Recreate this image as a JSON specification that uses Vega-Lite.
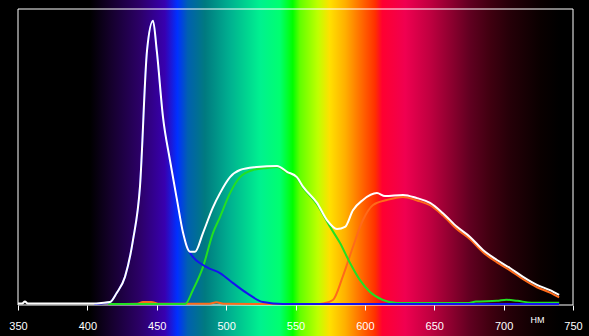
{
  "$schema": "https://vega.github.io/schema/vega-lite/v6.json",
  "width": 555,
  "height": 296,
  "autosize": {"type": "none"},
  "padding": {"left": 18, "top": 9, "right": 16, "bottom": 31},
  "background": "#000000",
  "config": {"view": {"stroke": null}},
  "datasets": {
    "spectrum": [
      {"s": "orange", "nm": 415, "v": 0.3}, {"s": "orange", "nm": 436, "v": 0.4}, {"s": "orange", "nm": 440, "v": 1.0}, {"s": "orange", "nm": 446, "v": 1.0}, {"s": "orange", "nm": 452, "v": 0.4}, {"s": "orange", "nm": 488, "v": 0.4}, {"s": "orange", "nm": 493, "v": 0.9}, {"s": "orange", "nm": 498, "v": 0.4}, {"s": "orange", "nm": 565, "v": 0.3}, {"s": "orange", "nm": 570, "v": 0.5}, {"s": "orange", "nm": 577, "v": 1.7}, {"s": "orange", "nm": 584, "v": 9.5}, {"s": "orange", "nm": 591.4, "v": 19.6}, {"s": "orange", "nm": 598.6, "v": 28.7}, {"s": "orange", "nm": 605.9, "v": 33.8}, {"s": "orange", "nm": 616, "v": 35.5}, {"s": "orange", "nm": 627.5, "v": 36.5}, {"s": "orange", "nm": 637.6, "v": 35.3}, {"s": "orange", "nm": 647, "v": 33.7}, {"s": "orange", "nm": 656.3, "v": 30.2}, {"s": "orange", "nm": 666.4, "v": 25.6}, {"s": "orange", "nm": 675.8, "v": 22.2}, {"s": "orange", "nm": 685.1, "v": 17.8}, {"s": "orange", "nm": 695.2, "v": 14.4}, {"s": "orange", "nm": 704.6, "v": 11.7}, {"s": "orange", "nm": 714, "v": 8.7}, {"s": "orange", "nm": 724, "v": 6.0}, {"s": "orange", "nm": 733.4, "v": 4.2}, {"s": "orange", "nm": 740, "v": 2.6},
      {"s": "green", "nm": 415, "v": 0.3}, {"s": "green", "nm": 470.4, "v": 0.3}, {"s": "green", "nm": 476, "v": 5}, {"s": "green", "nm": 483.3, "v": 12.8}, {"s": "green", "nm": 490.5, "v": 24.3}, {"s": "green", "nm": 495.6, "v": 29.7}, {"s": "green", "nm": 502.8, "v": 37.8}, {"s": "green", "nm": 510, "v": 43.2}, {"s": "green", "nm": 519.4, "v": 45.6}, {"s": "green", "nm": 529.5, "v": 46.3}, {"s": "green", "nm": 536.7, "v": 46.6}, {"s": "green", "nm": 543.9, "v": 44.6}, {"s": "green", "nm": 551, "v": 42.8}, {"s": "green", "nm": 555.4, "v": 39.6}, {"s": "green", "nm": 565.5, "v": 34.0}, {"s": "green", "nm": 574.9, "v": 26.4}, {"s": "green", "nm": 582, "v": 21}, {"s": "green", "nm": 589.3, "v": 14.2}, {"s": "green", "nm": 596.5, "v": 8.4}, {"s": "green", "nm": 603.7, "v": 4.4}, {"s": "green", "nm": 613, "v": 1.7}, {"s": "green", "nm": 623, "v": 0.7}, {"s": "green", "nm": 675, "v": 0.7}, {"s": "green", "nm": 680, "v": 1.2}, {"s": "green", "nm": 695, "v": 1.4}, {"s": "green", "nm": 702, "v": 1.8}, {"s": "green", "nm": 710, "v": 1.4}, {"s": "green", "nm": 720, "v": 0.8}, {"s": "green", "nm": 740, "v": 0.8},
      {"s": "blue", "nm": 405, "v": 0.3}, {"s": "blue", "nm": 410, "v": 0.5}, {"s": "blue", "nm": 416.3, "v": 1}, {"s": "blue", "nm": 421, "v": 4}, {"s": "blue", "nm": 427.1, "v": 9.5}, {"s": "blue", "nm": 432.9, "v": 22}, {"s": "blue", "nm": 437.9, "v": 39.9}, {"s": "blue", "nm": 443, "v": 86}, {"s": "blue", "nm": 447.3, "v": 96}, {"s": "blue", "nm": 450, "v": 86}, {"s": "blue", "nm": 454.5, "v": 63.5}, {"s": "blue", "nm": 459.5, "v": 49}, {"s": "blue", "nm": 464.6, "v": 35.5}, {"s": "blue", "nm": 469, "v": 24.3}, {"s": "blue", "nm": 474, "v": 17.6}, {"s": "blue", "nm": 486, "v": 12.8}, {"s": "blue", "nm": 495.6, "v": 10.8}, {"s": "blue", "nm": 505, "v": 7.4}, {"s": "blue", "nm": 515, "v": 4}, {"s": "blue", "nm": 526.6, "v": 1}, {"s": "blue", "nm": 541, "v": 0.3}, {"s": "blue", "nm": 740, "v": 0.3},
      {"s": "white", "nm": 350, "v": 0.5}, {"s": "white", "nm": 353, "v": 0.5}, {"s": "white", "nm": 355, "v": 1.2}, {"s": "white", "nm": 357, "v": 0.5}, {"s": "white", "nm": 405, "v": 0.5}, {"s": "white", "nm": 410, "v": 0.7}, {"s": "white", "nm": 416.3, "v": 1}, {"s": "white", "nm": 421, "v": 4}, {"s": "white", "nm": 427.1, "v": 9.5}, {"s": "white", "nm": 432.9, "v": 22}, {"s": "white", "nm": 437.9, "v": 39.9}, {"s": "white", "nm": 443, "v": 86}, {"s": "white", "nm": 447.3, "v": 96}, {"s": "white", "nm": 450, "v": 86}, {"s": "white", "nm": 454.5, "v": 63.5}, {"s": "white", "nm": 459.5, "v": 49}, {"s": "white", "nm": 464.6, "v": 35.5}, {"s": "white", "nm": 469, "v": 24.3}, {"s": "white", "nm": 474, "v": 18}, {"s": "white", "nm": 477.6, "v": 18}, {"s": "white", "nm": 483.3, "v": 24.3}, {"s": "white", "nm": 490.5, "v": 33}, {"s": "white", "nm": 495.6, "v": 37.8}, {"s": "white", "nm": 502.8, "v": 43.2}, {"s": "white", "nm": 510, "v": 45.6}, {"s": "white", "nm": 522, "v": 46.6}, {"s": "white", "nm": 536.7, "v": 47}, {"s": "white", "nm": 543.9, "v": 45}, {"s": "white", "nm": 551, "v": 43.2}, {"s": "white", "nm": 555.4, "v": 40}, {"s": "white", "nm": 565.5, "v": 34.5}, {"s": "white", "nm": 572.7, "v": 28.7}, {"s": "white", "nm": 579.9, "v": 25.7}, {"s": "white", "nm": 585.7, "v": 26.4}, {"s": "white", "nm": 591.4, "v": 32}, {"s": "white", "nm": 598.6, "v": 35.5}, {"s": "white", "nm": 608.7, "v": 37.8}, {"s": "white", "nm": 614.5, "v": 36.8}, {"s": "white", "nm": 627.5, "v": 37.2}, {"s": "white", "nm": 637.6, "v": 36.1}, {"s": "white", "nm": 647, "v": 34.5}, {"s": "white", "nm": 656.3, "v": 31}, {"s": "white", "nm": 666.4, "v": 26.4}, {"s": "white", "nm": 675.8, "v": 23}, {"s": "white", "nm": 685.1, "v": 18.6}, {"s": "white", "nm": 695.2, "v": 15.2}, {"s": "white", "nm": 704.6, "v": 12.5}, {"s": "white", "nm": 714, "v": 9.5}, {"s": "white", "nm": 724, "v": 6.8}, {"s": "white", "nm": 733.4, "v": 5}, {"s": "white", "nm": 740, "v": 3.4}
    ]
  },
  "layer": [
    {
      "data": {"values": [{}]},
      "mark": {
        "type": "rect",
        "clip": false,
        "fill": {
          "gradient": "linear", "x1": 0, "y1": 0, "x2": 1, "y2": 0,
          "stops": [
            {"offset": 0, "color": "#000000"},
            {"offset": 0.153, "color": "#000000"},
            {"offset": 0.187, "color": "#14002a"},
            {"offset": 0.238, "color": "#2c0068"},
            {"offset": 0.28, "color": "#3800b0"},
            {"offset": 0.301, "color": "#0030ff"},
            {"offset": 0.319, "color": "#0060b0"},
            {"offset": 0.348, "color": "#007a80"},
            {"offset": 0.39, "color": "#00b090"},
            {"offset": 0.441, "color": "#00f090"},
            {"offset": 0.475, "color": "#00ff70"},
            {"offset": 0.497, "color": "#00ff00"},
            {"offset": 0.509, "color": "#60ff00"},
            {"offset": 0.54, "color": "#c0ff00"},
            {"offset": 0.56, "color": "#ffe000"},
            {"offset": 0.586, "color": "#ffb000"},
            {"offset": 0.611, "color": "#ff7000"},
            {"offset": 0.637, "color": "#ff3000"},
            {"offset": 0.649, "color": "#ff0030"},
            {"offset": 0.688, "color": "#f00050"},
            {"offset": 0.73, "color": "#c00040"},
            {"offset": 0.764, "color": "#900030"},
            {"offset": 0.798, "color": "#600020"},
            {"offset": 0.832, "color": "#400010"},
            {"offset": 0.866, "color": "#250008"},
            {"offset": 0.917, "color": "#0a0000"},
            {"offset": 0.951, "color": "#000000"},
            {"offset": 1, "color": "#000000"}
          ]
        }
      },
      "encoding": {
        "x": {"datum": 337.03, "type": "quantitative", "scale": {"domain": [350, 750], "nice": false, "zero": false},
          "axis": {"values": [350, 400, 450, 500, 550, 600, 650, 700, 750], "domain": false, "grid": false, "zindex": 1,
            "tickColor": "#ffffff", "tickSize": 5, "tickWidth": 1, "labelColor": "#ffffff", "labelFont": "Liberation Sans", "labelFontSize": 11,
            "labelPadding": 10, "labelFlush": false,
            "title": "НМ", "titleColor": "#ffffff", "titleFont": "Liberation Sans", "titleFontSize": 9, "titleFontWeight": "normal",
            "titleX": 519, "titleY": 17, "titleAlign": "center", "titleBaseline": "alphabetic"}},
        "x2": {"datum": 761.53},
        "y": {"datum": -10.47, "type": "quantitative", "scale": {"domain": [0, 100], "nice": false, "zero": false}, "axis": null},
        "y2": {"datum": 103.04}
      }
    },
    {
      "data": {"values": [{}]},
      "mark": {"type": "rect", "fill": null, "fillOpacity": 0, "stroke": "#ffffff", "strokeWidth": 1},
      "encoding": {
        "x": {"datum": 350, "type": "quantitative"},
        "x2": {"datum": 750},
        "y": {"datum": 0, "type": "quantitative"},
        "y2": {"datum": 100}
      }
    },
    {
      "data": {"name": "spectrum"},
      "transform": [{"filter": "datum.s === 'orange'"}],
      "mark": {"type": "line", "color": "#ff6a1a", "strokeWidth": 2, "interpolate": "monotone"},
      "encoding": {"x": {"field": "nm", "type": "quantitative"}, "y": {"field": "v", "type": "quantitative"}}
    },
    {
      "data": {"name": "spectrum"},
      "transform": [{"filter": "datum.s === 'green'"}],
      "mark": {"type": "line", "color": "#22e022", "strokeWidth": 2, "interpolate": "monotone"},
      "encoding": {"x": {"field": "nm", "type": "quantitative"}, "y": {"field": "v", "type": "quantitative"}}
    },
    {
      "data": {"name": "spectrum"},
      "transform": [{"filter": "datum.s === 'blue'"}],
      "mark": {"type": "line", "color": "#1414f0", "strokeWidth": 2, "interpolate": "monotone"},
      "encoding": {"x": {"field": "nm", "type": "quantitative"}, "y": {"field": "v", "type": "quantitative"}}
    },
    {
      "data": {"name": "spectrum"},
      "transform": [{"filter": "datum.s === 'white'"}],
      "mark": {"type": "line", "color": "#ffffff", "strokeWidth": 2, "interpolate": "monotone"},
      "encoding": {"x": {"field": "nm", "type": "quantitative"}, "y": {"field": "v", "type": "quantitative"}}
    }
  ]
}
